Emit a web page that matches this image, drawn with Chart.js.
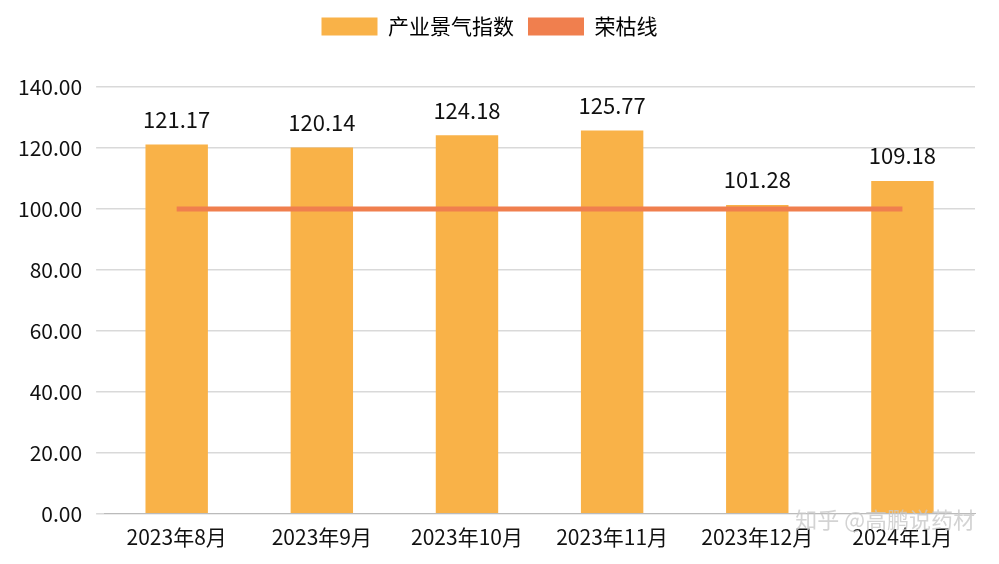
<!DOCTYPE html>
<html><head><meta charset="utf-8">
<script src="https://cdn.jsdelivr.net/npm/chart.js@4"></script>
<style>html,body{margin:0;padding:0;background:#fff}#w{width:999px;height:564px;position:relative}</style>
</head><body><div id="w"><canvas id="c"></canvas></div>
<script>
const categories=["2023年8月","2023年9月","2023年10月","2023年11月","2023年12月","2024年1月"];
const indexValues=[121.17,120.14,124.18,125.77,101.28,109.18];
const lineValues=[100,100,100,100,100,100];
const yTicks=[0,20,40,60,80,100,120,140];
const F="'Noto Sans CJK SC','Noto Sans',sans-serif";
const labelsPlugin={id:'lbl',
 beforeInit(ch){const l=ch.legend;if(l){const f=l.fit;l.fit=function(){f.call(this);this.height+=40;};}},
 afterDatasetsDraw(ch){
  const ctx=ch.ctx,m=ch.getDatasetMeta(1);
  ctx.save();ctx.font="22px "+F;ctx.fillStyle="#111";ctx.textAlign="center";ctx.textBaseline="bottom";
  m.data.forEach((b,i)=>ctx.fillText(indexValues[i].toFixed(2),b.x,b.y-14));
  ctx.font="22px "+F;ctx.fillStyle="rgba(200,200,200,0.8)";ctx.textAlign="right";ctx.textBaseline="middle";
  ctx.fillText("知乎 @高鹏说药材",975,520);
  ctx.restore();}};
new Chart(document.getElementById('c'),{
  data:{labels:categories,datasets:[
    {type:'line',label:'荣枯线',data:lineValues,borderColor:'#F07F4E',backgroundColor:'#F07F4E',borderWidth:5,pointRadius:0,order:0},
    {type:'bar',label:'产业景气指数',data:indexValues,backgroundColor:'#F9B248',borderColor:'#F9B248',barPercentage:0.43,categoryPercentage:1,order:1}
  ]},
  options:{responsive:true,maintainAspectRatio:false,animation:false,
    layout:{padding:{left:4,right:24,top:2,bottom:11}},
    plugins:{legend:{labels:{font:{size:21,family:F},color:'#111',boxWidth:56,boxHeight:18,padding:14,
      generateLabels(ch){return [
        {text:'产业景气指数',fillStyle:'#F9B248',strokeStyle:'#F9B248',lineWidth:0,datasetIndex:1},
        {text:'荣枯线',fillStyle:'#F07F4E',strokeStyle:'#F07F4E',lineWidth:0,datasetIndex:0}];}}},
      tooltip:{enabled:false}},
    scales:{
      x:{grid:{display:false},border:{color:'#bbb'},ticks:{font:{size:21,family:F},color:'#111',maxRotation:0,autoSkip:false}},
      y:{min:0,max:140,afterBuildTicks(a){a.ticks=yTicks.map(v=>({value:v}));},
        grid:{color:'#d9d9d9',lineWidth:1.5},border:{display:false},
        ticks:{font:{size:21,family:F},color:'#111',padding:14,callback:v=>v.toFixed(2)}}
    }},
  plugins:[labelsPlugin]
});
</script></body></html>
